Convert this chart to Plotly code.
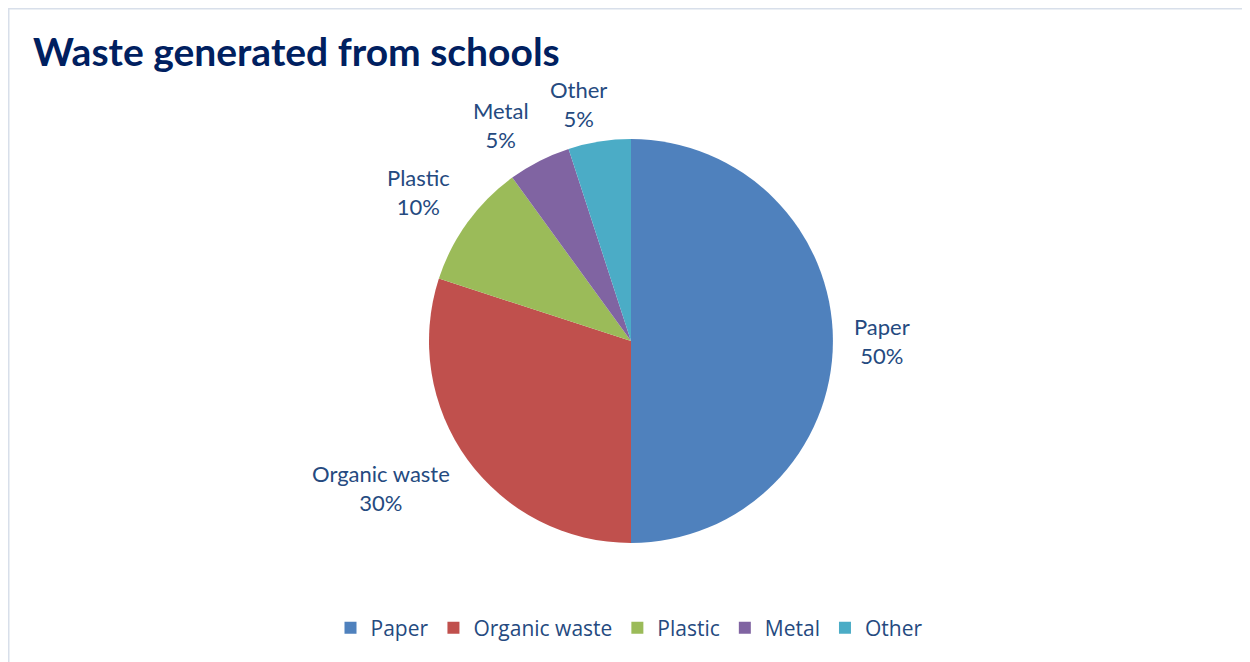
import math
import plotly.graph_objects as go

categories = ["Paper", "Organic waste", "Plastic", "Metal", "Other"]
values = [50, 30, 10, 5, 5]
colors = ["#4F81BD", "#C0504D", "#9BBB59", "#8064A2", "#4BACC6"]

# page has an 8px body margin; figure coordinates are page coords - 8
W, H = 1242, 654
cx, cy, r = 623, 333, 202
label_gap = 19
text_color = "#254A80"

fig = go.Figure(go.Pie(
    labels=categories,
    values=values,
    sort=False,
    direction="clockwise",
    rotation=0,
    marker=dict(colors=colors, line=dict(width=0)),
    textinfo="none",
    domain=dict(x=[(cx - r) / W, (cx + r) / W], y=[(H - cy - r) / H, (H - cy + r) / H]),
    hoverinfo="label+percent",
))

# data labels placed outside the slice ends, from the slice mid-angles
total = sum(values)
annotations = []
cum = 0.0
for lab, v in zip(categories, values):
    mid = (cum + v / 2) / total * 2 * math.pi
    cum += v
    s, c = math.sin(mid), math.cos(mid)
    R = r + label_gap
    px, py = cx + R * s, cy - R * c
    xshift = 0
    if s > 0.3:
        xa = "left"
    elif s < -0.3:
        xa = "right"
    else:
        xa = "center"
        xshift = 115 * s
    if c > 0.3:
        ya, yshift = "bottom", -11
    elif c < -0.3:
        ya, yshift = "top", 13
    else:
        ya, yshift = "middle", 0
    annotations.append(dict(
        x=px / W, y=1 - py / H, xref="paper", yref="paper",
        text=f"{lab}<br>{round(v / total * 100)}%",
        showarrow=False, xanchor=xa, yanchor=ya, align="center",
        xshift=xshift, yshift=yshift,
        font=dict(family="Lato", size=22, color=text_color),
    ))

fig.update_layout(
    width=W, height=H,
    margin=dict(l=0, r=0, t=0, b=0),
    paper_bgcolor="white",
    plot_bgcolor="white",
    title=dict(text="<b>Waste generated from schools</b>", x=25 / W, xanchor="left",
               y=1 - 44 / H, yanchor="middle",
               font=dict(family="Lato", size=39, color="#002060")),
    showlegend=True,
    legend=dict(orientation="h", x=621 / W, xanchor="center", y=(H - 620) / H, yanchor="middle",
                font=dict(family="Open Sans", size=21, color=text_color),
                tracegroupgap=0),
    annotations=annotations,
    shapes=[dict(type="rect", xref="paper", yref="paper", x0=0.75 / W, x1=1.01, y0=-0.01, y1=1 - 0.75 / H,
                 line=dict(color="#D8DFEA", width=1.5), fillcolor="rgba(0,0,0,0)", layer="below")],
)

fig.write_html("out.html")
